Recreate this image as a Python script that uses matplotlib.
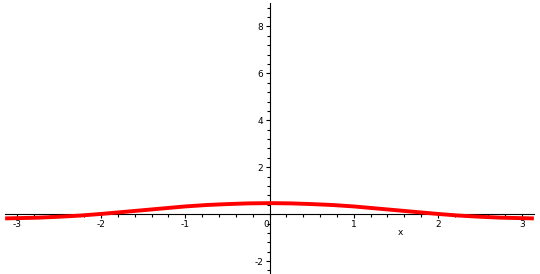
import numpy as np
import matplotlib
matplotlib.use("Agg")
import matplotlib.pyplot as plt
from matplotlib.ticker import MultipleLocator

plt.rcParams["axes.unicode_minus"] = False

# values
x_vals = [-3.14, -2.75, -2.5, -2.25, -2.0, -1.75, -1.5, -1.25, -1.0, -0.75, -0.5, -0.25, 0.0,
          0.25, 0.5, 0.75, 1.0, 1.25, 1.5, 1.75, 2.0, 2.25, 2.5, 2.75, 3.14]
y_vals = [-0.18, -0.15, -0.11, -0.06, 0.01, 0.09, 0.17, 0.25, 0.33, 0.39, 0.43, 0.46, 0.47,
          0.46, 0.43, 0.39, 0.33, 0.25, 0.17, 0.09, 0.01, -0.06, -0.11, -0.15, -0.18]
x_ticks = [-3, -2, -1, 0, 1, 2, 3]
y_ticks = [-2, 2, 4, 6, 8]

fig = plt.figure(figsize=(5.4, 2.74), dpi=100)
ax = fig.add_axes([5 / 540, 0, 529 / 540, 271 / 274])

ax.plot(x_vals, y_vals, color="#ff0000", linewidth=2.8, solid_capstyle="butt", zorder=3)

ax.set_xlim(-np.pi, np.pi)
ax.set_ylim(-2.55, 9.0)

for s in ["top", "right"]:
    ax.spines[s].set_visible(False)
ax.spines["left"].set_position(("data", 0))
ax.spines["bottom"].set_position(("data", 0))
for s in ["left", "bottom"]:
    ax.spines[s].set_linewidth(0.8)
    ax.spines[s].set_color("black")

ax.set_xticks(x_ticks)
ax.set_yticks(y_ticks)
ax.xaxis.set_minor_locator(MultipleLocator(0.2))
ax.yaxis.set_minor_locator(MultipleLocator(0.4))
ax.tick_params(which="major", direction="out", length=3, width=0.8, labelsize=6.5, pad=1.5)
ax.tick_params(which="minor", direction="out", length=2, width=0.8)
for lab in ax.get_xticklabels():
    if lab.get_text() == "0":
        lab.set_horizontalalignment("right")

ax.text(1.55, -0.77, "x", fontsize=6.5, ha="center", va="center")

fig.savefig("out.png", dpi=100)
